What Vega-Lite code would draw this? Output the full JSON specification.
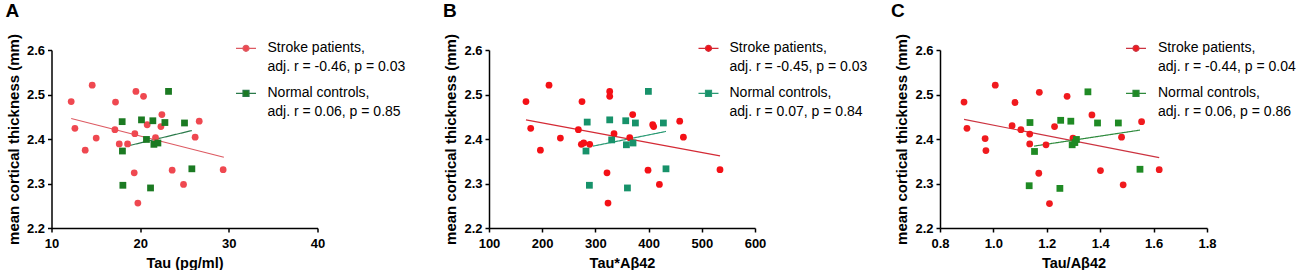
{
  "$schema": "https://vega.github.io/schema/vega-lite/v6.json",
  "padding": {"left": 5.5, "top": 1, "right": 0, "bottom": 0},
  "background": "white",
  "datasets": {
    "pts": [
      {"p":"A","g":"Stroke patients","x":12.22,"y":2.484},{"p":"A","g":"Stroke patients","x":12.64,"y":2.424},{"p":"A","g":"Stroke patients","x":14.59,"y":2.521},{"p":"A","g":"Stroke patients","x":13.8,"y":2.375},{"p":"A","g":"Stroke patients","x":15.04,"y":2.402},{"p":"A","g":"Stroke patients","x":17.22,"y":2.483},{"p":"A","g":"Stroke patients","x":17.15,"y":2.421},{"p":"A","g":"Stroke patients","x":17.64,"y":2.389},{"p":"A","g":"Stroke patients","x":18.58,"y":2.389},{"p":"A","g":"Stroke patients","x":19.52,"y":2.507},{"p":"A","g":"Stroke patients","x":20.38,"y":2.496},{"p":"A","g":"Stroke patients","x":19.4,"y":2.412},{"p":"A","g":"Stroke patients","x":20.79,"y":2.432},{"p":"A","g":"Stroke patients","x":22.45,"y":2.455},{"p":"A","g":"Stroke patients","x":22.34,"y":2.428},{"p":"A","g":"Stroke patients","x":21.73,"y":2.403},{"p":"A","g":"Stroke patients","x":26.66,"y":2.44},{"p":"A","g":"Stroke patients","x":26.2,"y":2.404},{"p":"A","g":"Stroke patients","x":19.33,"y":2.324},{"p":"A","g":"Stroke patients","x":19.74,"y":2.256},{"p":"A","g":"Stroke patients","x":23.61,"y":2.33},{"p":"A","g":"Stroke patients","x":24.89,"y":2.298},{"p":"A","g":"Stroke patients","x":29.36,"y":2.331},
      {"p":"A","g":"Normal controls","x":23.2,"y":2.507},{"p":"A","g":"Normal controls","x":17.97,"y":2.439},{"p":"A","g":"Normal controls","x":20.15,"y":2.443},{"p":"A","g":"Normal controls","x":21.43,"y":2.441},{"p":"A","g":"Normal controls","x":22.79,"y":2.437},{"p":"A","g":"Normal controls","x":25.0,"y":2.436},{"p":"A","g":"Normal controls","x":20.71,"y":2.399},{"p":"A","g":"Normal controls","x":21.55,"y":2.388},{"p":"A","g":"Normal controls","x":22.0,"y":2.391},{"p":"A","g":"Normal controls","x":18.0,"y":2.373},{"p":"A","g":"Normal controls","x":25.83,"y":2.333},{"p":"A","g":"Normal controls","x":18.05,"y":2.296},{"p":"A","g":"Normal controls","x":21.17,"y":2.29},
      {"p":"B","g":"Stroke patients","x":212.8,"y":2.521},{"p":"B","g":"Stroke patients","x":169.5,"y":2.484},{"p":"B","g":"Stroke patients","x":274.8,"y":2.484},{"p":"B","g":"Stroke patients","x":326.9,"y":2.507},{"p":"B","g":"Stroke patients","x":326.9,"y":2.496},{"p":"B","g":"Stroke patients","x":178.4,"y":2.424},{"p":"B","g":"Stroke patients","x":234.2,"y":2.402},{"p":"B","g":"Stroke patients","x":196.6,"y":2.375},{"p":"B","g":"Stroke patients","x":268,"y":2.421},{"p":"B","g":"Stroke patients","x":273.6,"y":2.388},{"p":"B","g":"Stroke patients","x":278,"y":2.391},{"p":"B","g":"Stroke patients","x":289.3,"y":2.388},{"p":"B","g":"Stroke patients","x":335,"y":2.412},{"p":"B","g":"Stroke patients","x":370.1,"y":2.455},{"p":"B","g":"Stroke patients","x":407.7,"y":2.432},{"p":"B","g":"Stroke patients","x":409.5,"y":2.428},{"p":"B","g":"Stroke patients","x":364.5,"y":2.403},{"p":"B","g":"Stroke patients","x":458.5,"y":2.44},{"p":"B","g":"Stroke patients","x":465.4,"y":2.404},{"p":"B","g":"Stroke patients","x":321.8,"y":2.324},{"p":"B","g":"Stroke patients","x":323.7,"y":2.256},{"p":"B","g":"Stroke patients","x":398.9,"y":2.33},{"p":"B","g":"Stroke patients","x":420.3,"y":2.298},{"p":"B","g":"Stroke patients","x":534.2,"y":2.331},
      {"p":"B","g":"Normal controls","x":399.6,"y":2.507},{"p":"B","g":"Normal controls","x":284.6,"y":2.438},{"p":"B","g":"Normal controls","x":326.9,"y":2.443},{"p":"B","g":"Normal controls","x":357,"y":2.441},{"p":"B","g":"Normal controls","x":375.2,"y":2.436},{"p":"B","g":"Normal controls","x":427.8,"y":2.436},{"p":"B","g":"Normal controls","x":330.6,"y":2.398},{"p":"B","g":"Normal controls","x":358.3,"y":2.387},{"p":"B","g":"Normal controls","x":370.7,"y":2.391},{"p":"B","g":"Normal controls","x":282.3,"y":2.373},{"p":"B","g":"Normal controls","x":432.7,"y":2.333},{"p":"B","g":"Normal controls","x":288.7,"y":2.296},{"p":"B","g":"Normal controls","x":360.2,"y":2.29},
      {"p":"C","g":"Stroke patients","x":1.007,"y":2.521},{"p":"C","g":"Stroke patients","x":0.89,"y":2.483},{"p":"C","g":"Stroke patients","x":1.081,"y":2.482},{"p":"C","g":"Stroke patients","x":1.172,"y":2.505},{"p":"C","g":"Stroke patients","x":1.276,"y":2.496},{"p":"C","g":"Stroke patients","x":0.901,"y":2.424},{"p":"C","g":"Stroke patients","x":0.969,"y":2.401},{"p":"C","g":"Stroke patients","x":0.972,"y":2.374},{"p":"C","g":"Stroke patients","x":1.07,"y":2.43},{"p":"C","g":"Stroke patients","x":1.103,"y":2.421},{"p":"C","g":"Stroke patients","x":1.136,"y":2.411},{"p":"C","g":"Stroke patients","x":1.136,"y":2.389},{"p":"C","g":"Stroke patients","x":1.197,"y":2.387},{"p":"C","g":"Stroke patients","x":1.229,"y":2.428},{"p":"C","g":"Stroke patients","x":1.298,"y":2.402},{"p":"C","g":"Stroke patients","x":1.369,"y":2.454},{"p":"C","g":"Stroke patients","x":1.555,"y":2.439},{"p":"C","g":"Stroke patients","x":1.48,"y":2.404},{"p":"C","g":"Stroke patients","x":1.17,"y":2.323},{"p":"C","g":"Stroke patients","x":1.21,"y":2.255},{"p":"C","g":"Stroke patients","x":1.401,"y":2.329},{"p":"C","g":"Stroke patients","x":1.486,"y":2.297},{"p":"C","g":"Stroke patients","x":1.621,"y":2.331},
      {"p":"C","g":"Normal controls","x":1.354,"y":2.506},{"p":"C","g":"Normal controls","x":1.137,"y":2.437},{"p":"C","g":"Normal controls","x":1.252,"y":2.442},{"p":"C","g":"Normal controls","x":1.29,"y":2.44},{"p":"C","g":"Normal controls","x":1.39,"y":2.436},{"p":"C","g":"Normal controls","x":1.468,"y":2.436},{"p":"C","g":"Normal controls","x":1.311,"y":2.399},{"p":"C","g":"Normal controls","x":1.295,"y":2.387},{"p":"C","g":"Normal controls","x":1.305,"y":2.392},{"p":"C","g":"Normal controls","x":1.154,"y":2.372},{"p":"C","g":"Normal controls","x":1.549,"y":2.332},{"p":"C","g":"Normal controls","x":1.134,"y":2.295},{"p":"C","g":"Normal controls","x":1.249,"y":2.289}
    ],
    "lns": [
      {"p":"A","fit":"Stroke patients fit","x":12.22,"y":2.446},{"p":"A","fit":"Stroke patients fit","x":29.44,"y":2.359},
      {"p":"A","fit":"Normal controls fit","x":18.73,"y":2.385},{"p":"A","fit":"Normal controls fit","x":25.83,"y":2.419},
      {"p":"B","fit":"Stroke patients fit","x":169.5,"y":2.443},{"p":"B","fit":"Stroke patients fit","x":534.2,"y":2.362},
      {"p":"B","fit":"Normal controls fit","x":295.5,"y":2.384},{"p":"B","fit":"Normal controls fit","x":432.7,"y":2.417},
      {"p":"C","fit":"Stroke patients fit","x":0.89,"y":2.444},{"p":"C","fit":"Stroke patients fit","x":1.621,"y":2.358},
      {"p":"C","fit":"Normal controls fit","x":1.152,"y":2.384},{"p":"C","fit":"Normal controls fit","x":1.549,"y":2.42}
    ]
  },
  "spacing": 36.5,
  "resolve": {"scale": {"color": "independent", "fill": "independent", "stroke": "independent", "strokeDash": "independent", "x": "independent", "y": "independent"}, "legend": {"color": "independent", "fill": "independent", "stroke": "independent", "strokeDash": "independent"}},
  "hconcat": [
    {
      "width": 266, "height": 178,
      "title": {"text": "A"},
      "layer": [
        {"data": {"name": "lns"}, "transform": [{"filter": "datum.p == 'A' && datum.fit == 'Stroke patients fit'"}],
         "mark": {"type": "line", "strokeWidth": 1.2},
         "encoding": {"x": {"field": "x", "type": "quantitative"}, "y": {"field": "y", "type": "quantitative"},
           "stroke": {"field": "fit", "type": "nominal", "scale": {"domain": ["Stroke patients fit"], "range": ["#dd5a62"]},
             "legend": {"orient": "none", "legendX": 183.5, "legendY": 6.3, "title": null, "labelOffset": 10.5, "symbolOpacity": 0, "symbolSize": 400,
               "labelExpr": "'adj. r = -0.46, p = 0.03'"}}}},
        {"data": {"name": "lns"}, "transform": [{"filter": "datum.p == 'A' && datum.fit == 'Normal controls fit'"}],
         "mark": {"type": "line", "color": "#2a7a4a", "strokeWidth": 1.2},
         "encoding": {"x": {"field": "x", "type": "quantitative"}, "y": {"field": "y", "type": "quantitative"},
           "strokeDash": {"field": "fit", "type": "nominal", "scale": {"domain": ["Normal controls fit"], "range": [[1, 0]]},
             "legend": {"orient": "none", "legendX": 183.5, "legendY": 51, "title": null, "labelOffset": 10.5, "symbolOpacity": 0, "symbolSize": 400,
               "labelExpr": "'adj. r = 0.06, p = 0.85'"}}}},
        {"data": {"name": "pts"}, "transform": [{"filter": "datum.p == 'A' && datum.g == 'Stroke patients'"}],
         "mark": {"type": "point", "filled": true, "size": 46, "opacity": 1, "shape": "circle"},
         "encoding": {
           "x": {"field": "x", "type": "quantitative", "scale": {"domain": [10, 40], "nice": false, "zero": false}, "axis": {"values": [10, 20, 30, 40], "title": "Tau (pg/ml)"}},
           "y": {"field": "y", "type": "quantitative", "scale": {"domain": [2.2, 2.6], "nice": false, "zero": false}, "axis": {"values": [2.2, 2.3, 2.4, 2.5, 2.6], "format": ".1f", "title": "mean cortical thickness (mm)"}},
           "color": {"field": "g", "type": "nominal", "scale": {"domain": ["Stroke patients"], "range": ["#ef4850"]},
             "legend": {"orient": "none", "legendX": 183.5, "legendY": -12.7, "title": null, "labelOffset": 10.5,
               "symbolType": "M-1,0L-0.3,0M0.3,0L1,0M0.3,0A0.3,0.3,0,1,1,-0.3,0A0.3,0.3,0,1,1,0.3,0Z",
               "symbolStrokeColor": "#dd5a62", "symbolStrokeWidth": 1.2,
               "labelExpr": "'Stroke patients,'"}}
         }},
        {"data": {"name": "pts"}, "transform": [{"filter": "datum.p == 'A' && datum.g == 'Normal controls'"}],
         "mark": {"type": "point", "filled": true, "size": 46, "opacity": 1, "shape": "square"},
         "encoding": {
           "x": {"field": "x", "type": "quantitative"},
           "y": {"field": "y", "type": "quantitative"},
           "fill": {"field": "g", "type": "nominal", "scale": {"domain": ["Normal controls"], "range": ["#1b7a22"]},
             "legend": {"orient": "none", "legendX": 183.5, "legendY": 32.3, "title": null, "labelOffset": 10.5,
               "symbolType": "M-1,0L-0.3,0M0.3,0L1,0M-0.3,-0.3L0.3,-0.3L0.3,0.3L-0.3,0.3Z",
               "symbolStrokeColor": "#2a7a4a", "symbolStrokeWidth": 1.2,
               "labelExpr": "'Normal controls,'"}}
         }}
      ]
    },
    {
      "spacing": 23,
      "resolve": {"scale": {"color": "independent", "fill": "independent", "stroke": "independent", "strokeDash": "independent", "x": "independent", "y": "independent"}, "legend": {"color": "independent", "fill": "independent", "stroke": "independent", "strokeDash": "independent"}},
      "hconcat": [
        {
          "width": 266, "height": 178,
          "title": {"text": "B"},
          "layer": [
            {"data": {"name": "lns"}, "transform": [{"filter": "datum.p == 'B' && datum.fit == 'Stroke patients fit'"}],
             "mark": {"type": "line", "strokeWidth": 1.2},
             "encoding": {"x": {"field": "x", "type": "quantitative"}, "y": {"field": "y", "type": "quantitative"},
               "stroke": {"field": "fit", "type": "nominal", "scale": {"domain": ["Stroke patients fit"], "range": ["#d42a35"]},
                 "legend": {"orient": "none", "legendX": 208.5, "legendY": 6.3, "title": null, "labelOffset": 10, "symbolOpacity": 0, "symbolSize": 400,
                   "labelExpr": "'adj. r = -0.45, p = 0.03'"}}}},
            {"data": {"name": "lns"}, "transform": [{"filter": "datum.p == 'B' && datum.fit == 'Normal controls fit'"}],
             "mark": {"type": "line", "color": "#2a9a74", "strokeWidth": 1.2},
             "encoding": {"x": {"field": "x", "type": "quantitative"}, "y": {"field": "y", "type": "quantitative"},
               "strokeDash": {"field": "fit", "type": "nominal", "scale": {"domain": ["Normal controls fit"], "range": [[1, 0]]},
                 "legend": {"orient": "none", "legendX": 208.5, "legendY": 51, "title": null, "labelOffset": 10, "symbolOpacity": 0, "symbolSize": 400,
                   "labelExpr": "'adj. r = 0.07, p = 0.84'"}}}},
            {"data": {"name": "pts"}, "transform": [{"filter": "datum.p == 'B' && datum.g == 'Stroke patients'"}],
             "mark": {"type": "point", "filled": true, "size": 46, "opacity": 1, "shape": "circle"},
             "encoding": {
               "x": {"field": "x", "type": "quantitative", "scale": {"domain": [100, 600], "nice": false, "zero": false}, "axis": {"values": [100, 200, 300, 400, 500, 600], "title": "Tau*Aβ42"}},
               "y": {"field": "y", "type": "quantitative", "scale": {"domain": [2.2, 2.6], "nice": false, "zero": false}, "axis": {"values": [2.2, 2.3, 2.4, 2.5, 2.6], "format": ".1f", "title": "mean cortical thickness (mm)"}},
               "color": {"field": "g", "type": "nominal", "scale": {"domain": ["Stroke patients"], "range": ["#f41016"]},
                 "legend": {"orient": "none", "legendX": 208.5, "legendY": -12.7, "title": null, "labelOffset": 10,
                   "symbolType": "M-1,0L-0.3,0M0.3,0L1,0M0.3,0A0.3,0.3,0,1,1,-0.3,0A0.3,0.3,0,1,1,0.3,0Z",
                   "symbolStrokeColor": "#d42a35", "symbolStrokeWidth": 1.2,
                   "labelExpr": "'Stroke patients,'"}}
             }},
            {"data": {"name": "pts"}, "transform": [{"filter": "datum.p == 'B' && datum.g == 'Normal controls'"}],
             "mark": {"type": "point", "filled": true, "size": 46, "opacity": 1, "shape": "square"},
             "encoding": {
               "x": {"field": "x", "type": "quantitative"},
               "y": {"field": "y", "type": "quantitative"},
               "fill": {"field": "g", "type": "nominal", "scale": {"domain": ["Normal controls"], "range": ["#17926a"]},
                 "legend": {"orient": "none", "legendX": 208.5, "legendY": 32.3, "title": null, "labelOffset": 10,
                   "symbolType": "M-1,0L-0.3,0M0.3,0L1,0M-0.3,-0.3L0.3,-0.3L0.3,0.3L-0.3,0.3Z",
                   "symbolStrokeColor": "#2a9a74", "symbolStrokeWidth": 1.2,
                   "labelExpr": "'Normal controls,'"}}
             }}
          ]
        },
        {
          "width": 267, "height": 178,
          "title": {"text": "C", "dx": -49},
          "layer": [
            {"data": {"name": "lns"}, "transform": [{"filter": "datum.p == 'C' && datum.fit == 'Stroke patients fit'"}],
             "mark": {"type": "line", "strokeWidth": 1.2},
             "encoding": {"x": {"field": "x", "type": "quantitative"}, "y": {"field": "y", "type": "quantitative"},
               "stroke": {"field": "fit", "type": "nominal", "scale": {"domain": ["Stroke patients fit"], "range": ["#cc3340"]},
                 "legend": {"orient": "none", "legendX": 185, "legendY": 6.3, "title": null, "labelOffset": 11, "symbolOpacity": 0, "symbolSize": 400,
                   "labelExpr": "'adj. r = -0.44, p = 0.04'"}}}},
            {"data": {"name": "lns"}, "transform": [{"filter": "datum.p == 'C' && datum.fit == 'Normal controls fit'"}],
             "mark": {"type": "line", "color": "#2e8a3c", "strokeWidth": 1.2},
             "encoding": {"x": {"field": "x", "type": "quantitative"}, "y": {"field": "y", "type": "quantitative"},
               "strokeDash": {"field": "fit", "type": "nominal", "scale": {"domain": ["Normal controls fit"], "range": [[1, 0]]},
                 "legend": {"orient": "none", "legendX": 185, "legendY": 51, "title": null, "labelOffset": 11, "symbolOpacity": 0, "symbolSize": 400,
                   "labelExpr": "'adj. r = 0.06, p = 0.86'"}}}},
            {"data": {"name": "pts"}, "transform": [{"filter": "datum.p == 'C' && datum.g == 'Stroke patients'"}],
             "mark": {"type": "point", "filled": true, "size": 46, "opacity": 1, "shape": "circle"},
             "encoding": {
               "x": {"field": "x", "type": "quantitative", "scale": {"domain": [0.8, 1.8], "nice": false, "zero": false}, "axis": {"values": [0.8, 1.0, 1.2, 1.4, 1.6, 1.8], "format": ".1f", "title": "Tau/Aβ42"}},
               "y": {"field": "y", "type": "quantitative", "scale": {"domain": [2.2, 2.6], "nice": false, "zero": false}, "axis": {"values": [2.2, 2.3, 2.4, 2.5, 2.6], "format": ".1f", "title": "mean cortical thickness (mm)"}},
               "color": {"field": "g", "type": "nominal", "scale": {"domain": ["Stroke patients"], "range": ["#f01a1e"]},
                 "legend": {"orient": "none", "legendX": 185, "legendY": -12.7, "title": null, "labelOffset": 11,
                   "symbolType": "M-1,0L-0.3,0M0.3,0L1,0M0.3,0A0.3,0.3,0,1,1,-0.3,0A0.3,0.3,0,1,1,0.3,0Z",
                   "symbolStrokeColor": "#cc3340", "symbolStrokeWidth": 1.2,
                   "labelExpr": "'Stroke patients,'"}}
             }},
            {"data": {"name": "pts"}, "transform": [{"filter": "datum.p == 'C' && datum.g == 'Normal controls'"}],
             "mark": {"type": "point", "filled": true, "size": 46, "opacity": 1, "shape": "square"},
             "encoding": {
               "x": {"field": "x", "type": "quantitative"},
               "y": {"field": "y", "type": "quantitative"},
               "fill": {"field": "g", "type": "nominal", "scale": {"domain": ["Normal controls"], "range": ["#1f8a24"]},
                 "legend": {"orient": "none", "legendX": 185, "legendY": 32.3, "title": null, "labelOffset": 11,
                   "symbolType": "M-1,0L-0.3,0M0.3,0L1,0M-0.3,-0.3L0.3,-0.3L0.3,0.3L-0.3,0.3Z",
                   "symbolStrokeColor": "#2e8a3c", "symbolStrokeWidth": 1.2,
                   "labelExpr": "'Normal controls,'"}}
             }}
          ]
        }
      ]
    }
  ],
  "config": {
    "view": {"stroke": null},
    "font": "Liberation Sans",
    "title": {"fontSize": 19, "fontWeight": "bold", "anchor": "start", "frame": "group", "dx": -46, "color": "black", "font": "Liberation Sans", "offset": 13},
    "axis": {"domainColor": "black", "domainWidth": 1.5, "tickColor": "black", "tickWidth": 1.5, "tickSize": 4, "labelFont": "Liberation Sans", "labelFontSize": 13, "labelFontWeight": "bold", "labelColor": "black", "titleFont": "Liberation Sans", "titleFontSize": 15, "titleFontWeight": "bold", "titleColor": "black", "grid": false, "labelPadding": 3, "labelFlush": false, "labelOverlap": false},
    "axisY": {"titlePadding": 5},
    "axisX": {"titlePadding": 6, "titleFontSize": 14.5, "labelPadding": 5},
    "legend": {"labelFont": "Liberation Sans", "labelFontSize": 14, "labelColor": "black", "labelLimit": 0, "symbolSize": 400, "padding": 0}
  }
}
